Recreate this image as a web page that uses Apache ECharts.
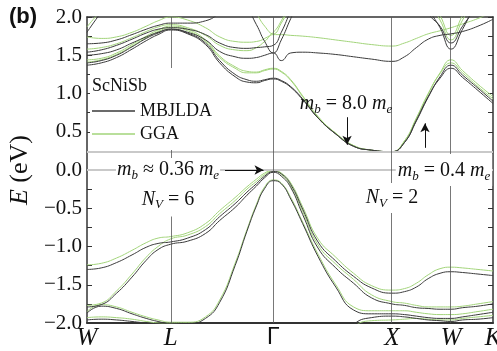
<!DOCTYPE html>
<html><head><meta charset="utf-8">
<script src="https://cdn.jsdelivr.net/npm/echarts@6/dist/echarts.min.js"></script>
<style>html,body{margin:0;padding:0;background:#fff}#c{width:497px;height:351px}</style>
</head><body><div id="c"></div>
<script>
// k-path positions (W-L-Γ-X-W-K)
const kGrid = [0,0.12,0.25,0.38,0.5,0.6,0.707,0.85,1.0,1.12,1.25,1.35,1.43,1.5,1.573,1.64,1.72,1.82,1.95,2.1,2.25,2.4,2.573,2.68,2.78,2.88,2.98,3.073,3.17,3.3,3.427];
const kTicks = [0,0.707,1.573,2.573,3.073,3.427];
const kLabels = ['W','L','Γ','X','W','K'];
const refLevels = [0, 0.24];

// GGA bands
const hhG = [-1.24,-1.22,-1.15,-1.05,-0.95,-0.89,-0.87,-0.82,-0.70,-0.53,-0.36,-0.22,-0.12,-0.04,0.00,-0.04,-0.17,-0.48,-0.90,-1.14,-1.35,-1.51,-1.57,-1.55,-1.48,-1.37,-1.29,-1.27,-1.28,-1.30,-1.32];
const lhG = [-1.77,-1.74,-1.58,-1.36,-1.14,-1.00,-0.90,-0.85,-0.74,-0.57,-0.40,-0.25,-0.15,-0.06,-0.01,-0.06,-0.21,-0.54,-0.98,-1.23,-1.43,-1.63,-1.72,-1.74,-1.77,-1.79,-1.79,-1.79,-1.78,-1.75,-1.72];
const soG = [-1.85,-1.76,-1.79,-1.86,-1.92,-1.96,-1.99,-1.99,-1.92,-1.70,-1.22,-0.78,-0.45,-0.22,-0.13,-0.17,-0.36,-0.68,-1.10,-1.50,-1.79,-1.84,-1.84,-1.84,-1.86,-1.88,-1.89,-1.89,-1.88,-1.85,-1.82];
const bG  = [-1.93,-1.92,-1.93,-1.95,-1.98,-2.00,-2.01,-2.04,-2.15,-2.30,-2.50,-2.60,-2.60,-2.60,-2.60,-2.60,-2.60,-2.60,-2.50,-2.30,-2.05,-1.97,-1.96,-1.95,-1.94,-1.95,-1.96,-1.96,-1.94,-1.92,-1.90];
const c1G = [1.44,1.46,1.53,1.64,1.75,1.83,1.88,1.84,1.70,1.49,1.35,1.29,1.28,1.31,1.33,1.29,1.18,0.97,0.70,0.48,0.32,0.26,0.24,0.38,0.67,0.99,1.27,1.44,1.30,1.12,0.96];
const c1G2 = [1.41,1.44,1.51,1.62,1.73,1.81,1.86,1.82,1.68,1.47,1.33,1.27,1.27,1.30,1.32,1.28,1.17,0.96,0.69,0.48,0.32,0.26,0.24,0.38,0.68,1.00,1.26,1.40,1.27,1.09,0.93];
const c2G = [1.58,1.60,1.65,1.73,1.81,1.87,1.90,1.86,1.76,1.63,1.57,1.56,1.60,1.68,1.77,1.77,1.76,1.75,1.73,1.70,1.67,1.64,1.62,1.66,1.72,1.78,1.82,1.86,1.91,1.98,2.07];
const c3G = [1.74,1.72,1.74,1.80,1.88,1.95,2.00,1.96,1.86,1.74,1.68,1.67,1.68,1.72,1.80,1.95,2.20,2.50,2.70,2.80,2.80,2.80,2.80,2.80,2.60,2.22,1.96,1.70,1.96,2.30,2.50];
const c4G = [1.87,2.08,2.25,2.30,2.30,2.20,2.10,2.15,2.25,2.35,2.35,2.25,2.05,1.88,1.78,1.92,2.15,2.45,2.70,2.80,2.80,2.80,2.80,2.80,2.60,2.28,2.02,1.76,2.02,2.35,2.60];

// MBJLDA bands
const hhD = [-1.30,-1.28,-1.21,-1.11,-1.01,-0.96,-0.94,-0.89,-0.78,-0.61,-0.44,-0.29,-0.18,-0.08,-0.02,-0.05,-0.19,-0.51,-0.94,-1.19,-1.39,-1.54,-1.61,-1.59,-1.53,-1.42,-1.35,-1.33,-1.34,-1.36,-1.38];
const lhD = [-1.79,-1.76,-1.61,-1.40,-1.18,-1.04,-0.97,-0.93,-0.83,-0.66,-0.49,-0.33,-0.21,-0.10,-0.03,-0.08,-0.23,-0.58,-1.02,-1.28,-1.48,-1.67,-1.75,-1.77,-1.80,-1.81,-1.82,-1.82,-1.80,-1.78,-1.75];
const soD = [-1.87,-1.78,-1.81,-1.88,-1.94,-1.98,-2.01,-2.01,-1.94,-1.73,-1.25,-0.80,-0.47,-0.24,-0.14,-0.18,-0.38,-0.70,-1.13,-1.53,-1.83,-1.88,-1.88,-1.89,-1.91,-1.93,-1.94,-1.94,-1.92,-1.89,-1.86];
const bD  = [-1.96,-1.95,-1.96,-1.98,-2.00,-2.01,-2.02,-2.05,-2.15,-2.30,-2.50,-2.60,-2.60,-2.60,-2.60,-2.60,-2.60,-2.60,-2.50,-2.30,-2.02,-1.93,-1.91,-1.92,-1.94,-1.96,-1.97,-1.98,-1.96,-1.95,-1.93];
const c1D = [1.37,1.40,1.47,1.58,1.69,1.77,1.83,1.78,1.64,1.40,1.22,1.15,1.14,1.17,1.19,1.16,1.08,0.92,0.68,0.47,0.31,0.26,0.24,0.36,0.64,0.95,1.22,1.37,1.24,1.07,0.90];
const c1D2 = [1.40,1.43,1.50,1.61,1.72,1.79,1.84,1.79,1.66,1.43,1.25,1.18,1.16,1.18,1.20,1.17,1.09,0.93,0.68,0.47,0.31,0.26,0.24,0.36,0.65,0.96,1.20,1.33,1.21,1.04,0.87];
const c2D = [1.50,1.52,1.57,1.66,1.74,1.80,1.84,1.80,1.70,1.55,1.48,1.46,1.47,1.50,1.53,1.43,1.53,1.54,1.53,1.51,1.48,1.45,1.42,1.48,1.60,1.71,1.76,1.78,1.81,1.88,1.97];
const c3D = [1.54,1.57,1.63,1.71,1.79,1.84,1.86,1.84,1.77,1.66,1.60,1.59,1.60,1.61,1.63,1.80,2.08,2.40,2.60,2.70,2.70,2.70,2.70,2.70,2.50,2.12,1.86,1.58,1.84,2.20,2.40];
const c4D = [1.65,1.66,1.70,1.77,1.84,1.89,1.92,1.92,1.95,2.05,2.20,2.10,1.90,1.68,1.53,1.70,1.98,2.30,2.50,2.60,2.60,2.60,2.60,2.60,2.40,2.05,1.88,1.66,1.88,2.15,2.40];
const c5D = [1.80,2.06,2.30,2.50,null,null,null,null,null,null,null,null,null,null,null,null,null,null,null,null,null,null,null,null,null,null,null,null,null,null,null];

const gga = [hhG,lhG,soG,bG,c1G,c1G2,c2G,c3G,c4G];
const mbj = [hhD,lhD,soD,bD,c1D,c1D2,c2D,c3D,c4D,c5D];

// annotation arrows: [k, E] start -> end
const arrows = [[[1.165,0],[1.49,0]], [[2.195,0.69],[2.195,0.33]], [[2.853,0.29],[2.853,0.61]]];

const SERIF = '"Liberation Serif","Times New Roman",serif';
const DARK = '#3a3a3a', GREEN = '#a2d47a';
const chart = echarts.init(document.getElementById('c'), null, {renderer:'canvas'});

function mk(name, arr, color){
  return {type:'line', name, data:kGrid.map((k,i)=>[k,arr[i]]), showSymbol:false, symbol:'none',
    smooth:0.5, lineStyle:{color, width:1}, itemStyle:{color}, z:2, silent:true, animation:false};
}
const series = [];
gga.forEach(a=>series.push(mk('GGA', a, GREEN)));
mbj.forEach(a=>series.push(mk('MBJLDA', a, DARK)));
series.push({type:'line', name:'guides', data:[], z:1, silent:true, animation:false,
  markLine:{silent:true, symbol:['none','none'], label:{show:false}, animation:false,
    data:[...refLevels.map(v=>({yAxis:v, lineStyle:{color:'#c9c9c9', width:2, type:'solid'}})),
          ...kTicks.slice(1,5).map(k=>({xAxis:k, lineStyle:{color:'#555', width:0.8, type:'solid'}}))]}});
series.push({type:'line', name:'arrows', data:[], z:9, silent:true, animation:false,
  markLine:{silent:true, symbol:['none','arrow'], symbolSize:[7,9], label:{show:false}, animation:false,
    lineStyle:{color:'#111', width:1, type:'solid'},
    data:arrows.map(a=>[{coord:a[0]},{coord:a[1]}])}});

const axisCommon = {type:'value', min:-2, max:2, interval:0.5};
chart.setOption({
  animation:false,
  title:{text:'(b)', left:9, top:6, padding:0, textStyle:{fontFamily:'"Liberation Sans",Arial,sans-serif', fontWeight:'bold', fontSize:22, color:'#111'}},
  grid:{left:87, right:4, top:17, bottom:28, containLabel:false, outerBoundsMode:'none'},
  legend:{data:['MBJLDA','GGA'], orient:'vertical', left:92, top:100, padding:0, itemGap:1, itemWidth:43, itemHeight:1.5, icon:'rect',
    selectedMode:false, z:6, textStyle:{fontFamily:SERIF, fontSize:18, color:'#111', lineHeight:22}},
  xAxis:[{type:'value', min:0, max:3.427, position:'bottom',
      axisLine:{show:true, onZero:false, lineStyle:{color:'#333', width:2}},
      axisTick:{show:false}, splitLine:{show:false},
      axisLabel:{customValues:kTicks, margin:3, color:'#111', fontSize:25, fontFamily:SERIF,
        formatter:(v)=>{const i=kTicks.findIndex(t=>Math.abs(t-v)<1e-6); const s=kLabels[i]; return s==='Γ'?'{g|Γ}':'{i|'+s+'}';},
        rich:{i:{fontStyle:'italic', fontFamily:SERIF, fontSize:25, color:'#111'}, g:{fontFamily:'"Liberation Sans",Arial,sans-serif', fontSize:23, color:'#111'}}}},
    {type:'value', min:0, max:3.427, position:'top', axisLine:{show:true, onZero:false, lineStyle:{color:'#333', width:1.5}},
      axisTick:{show:false}, axisLabel:{show:false}, splitLine:{show:false}}],
  yAxis:[Object.assign({}, axisCommon, {position:'left',
      name:'{i|E} (eV)', nameLocation:'middle', nameRotate:90, nameGap:42,
      nameTextStyle:{fontFamily:SERIF, fontSize:26, color:'#111', rich:{i:{fontStyle:'italic', fontFamily:SERIF, fontSize:26, color:'#111'}}},
      axisLine:{show:true, onZero:false, lineStyle:{color:'#333', width:1.5}},
      axisTick:{show:true, inside:true, length:5, lineStyle:{color:'#333'}},
      minorTick:{show:true, splitNumber:2, length:5, lineStyle:{color:'#333'}},
      splitLine:{show:false}, minorSplitLine:{show:false},
      axisLabel:{color:'#111', fontSize:21, fontFamily:SERIF, margin:5, formatter:(v)=>v.toFixed(1).replace('-','\u2212')}}),
    Object.assign({}, axisCommon, {position:'right',
      axisLine:{show:true, onZero:false, lineStyle:{color:'#333', width:1.5}},
      axisTick:{show:true, inside:true, length:5, lineStyle:{color:'#333'}},
      minorTick:{show:true, splitNumber:2, length:5, lineStyle:{color:'#333'}},
      splitLine:{show:false}, axisLabel:{show:false}})],
  series
});

const rich = {
  i:{fontStyle:'italic', fontFamily:SERIF, fontSize:20, lineHeight:24, fill:'#111'},
  n:{fontFamily:SERIF, fontSize:20, lineHeight:24, fill:'#111'},
  s:{fontStyle:'italic', fontFamily:SERIF, fontSize:13, lineHeight:13, verticalAlign:'bottom', fill:'#111'}
};
const notes = [
  {k:0.684, e:0, text:'{i|m}{s|b}{n| \u2248 0.36 }{i|m}{s|e}', pad:[0,1,0,1], bg:true},
  {k:0.684, e:-0.379, text:'{i|N}{s|V}{n| = 6}', pad:[6,3,5,3], bg:true},
  {k:2.186, e:0.863, text:'{i|m}{s|b}{n| = 8.0 }{i|m}{s|e}', pad:[0,0,0,0], bg:false},
  {k:3.013, e:0, text:'{i|m}{s|b}{n| = 0.4 }{i|m}{s|e}', pad:[5,2,3,2], bg:true},
  {k:2.574, e:-0.366, text:'{i|N}{s|V}{n| = 2}', pad:[3,3,3,3], bg:true}
];
const graphic = [
  {type:'rect', shape:{x:90, y:68, width:125, height:82}, style:{fill:'#fff'}, z:5, silent:true},
  {type:'text', x:92, y:86, z:7, silent:true, style:{text:'ScNiSb', fontFamily:SERIF, fontSize:18, fill:'#111', align:'left', verticalAlign:'middle'}}
];
notes.forEach(n=>{
  const p = chart.convertToPixel({gridIndex:0}, [n.k, n.e]);
  graphic.push({type:'text', x:p[0], y:p[1], z:7, silent:true,
    style:{text:n.text, rich, align:'center', verticalAlign:'middle', padding:n.pad, backgroundColor:n.bg?'#fff':null}});
});
chart.setOption({graphic});
</script>
</body></html>
